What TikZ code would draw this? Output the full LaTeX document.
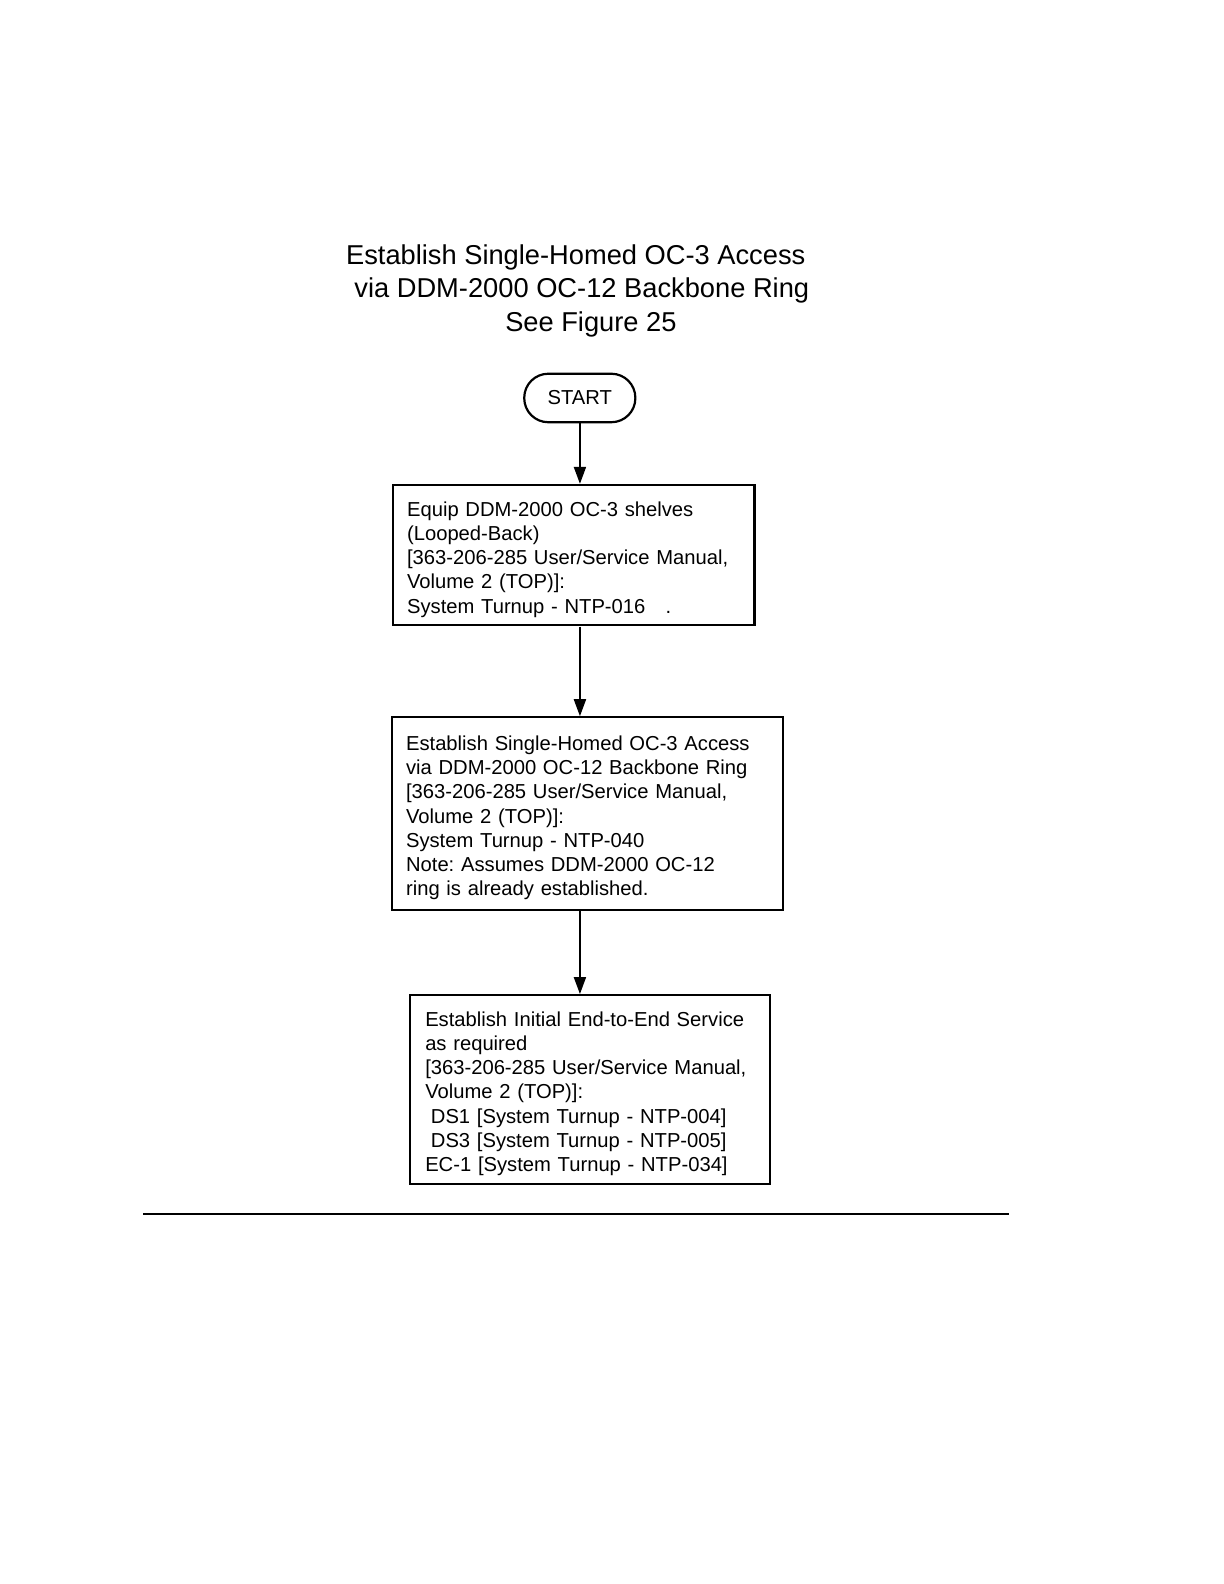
\documentclass[tikz,border=0pt]{standalone}
\usepackage{fontspec}
\setmainfont{Liberation Sans}
\usetikzlibrary{arrows.meta}
\frenchspacing
\newcommand{\toppad}{\rule{0pt}{11.5pt}}
\begin{document}
\begin{tikzpicture}[x=0.5pt,y=-0.5pt,
  titletext/.style={anchor=base,inner sep=0pt,font=\fontsize{13.5}{16.5}\selectfont},
  stepbox/.style={draw,line width=1.1pt,rectangle,inner ysep=0pt,align=left,font=\fontsize{10}{12}\selectfont},
  pill/.style={draw,line width=1.1pt,rounded corners=12pt,minimum width=55pt,minimum height=24pt,inner sep=0pt,font=\fontsize{10}{12}\selectfont},
  arr/.style={line width=1pt,-{Triangle[length=8.5pt,width=6pt]}}]
\useasboundingbox (0,0) rectangle (1224,1584);
\begin{scope}[scale=1.0101,transform shape]
\node[titletext] (t1) at (570,262) {Establish Single-Homed OC-3 Access};
\node[titletext] (t2) at (576,295) {via DDM-2000 OC-12 Backbone Ring};
\node[titletext] (t3) at (585,328) {See Figure 25};
\node[pill] (start) at (574,394) {START};
\node[stepbox,inner xsep=7pt,text width=165pt,minimum height=69.5pt] (b1) at (568,549.5)
 {\toppad Equip DDM-2000 OC-3 shelves\\(Looped-Back)\\{[}363-206-285 User/Service Manual,\\Volume 2 (TOP)]:\\System Turnup - NTP-016\hspace{10pt}.};
\node[stepbox,inner xsep=7pt,text width=179.5pt,minimum height=95.5pt] (b2) at (581.5,805.5)
 {\toppad Establish Single-Homed OC-3 Access\\via DDM-2000 OC-12 Backbone Ring\\{[}363-206-285 User/Service Manual,\\Volume 2 (TOP)]:\\System Turnup - NTP-040\\Note: Assumes DDM-2000 OC-12\\ring is already established.};
\node[stepbox,inner xsep=7.5pt,text width=163pt,minimum height=93.5pt] (b3) at (584,1078.5)
 {\toppad Establish Initial End-to-End Service\\as required\\{[}363-206-285 User/Service Manual,\\Volume 2 (TOP)]:\\\hspace*{2.8pt}DS1 [System Turnup - NTP-004]\\\hspace*{2.8pt}DS3 [System Turnup - NTP-005]\\EC-1 [System Turnup - NTP-034]};
\draw[arr] (start.south) -- (start.south |- b1.north);
\draw[arr] (b1.south -| start.south) -- (b2.north -| start.south);
\draw[arr] (b2.south -| start.south) -- (b3.north -| start.south);
\coordinate (rl) at (142,1202);
\coordinate (rr) at (999,1202);
\draw[line width=1pt] (rl) -- (rr);
\end{scope}
\end{tikzpicture}
\end{document}
